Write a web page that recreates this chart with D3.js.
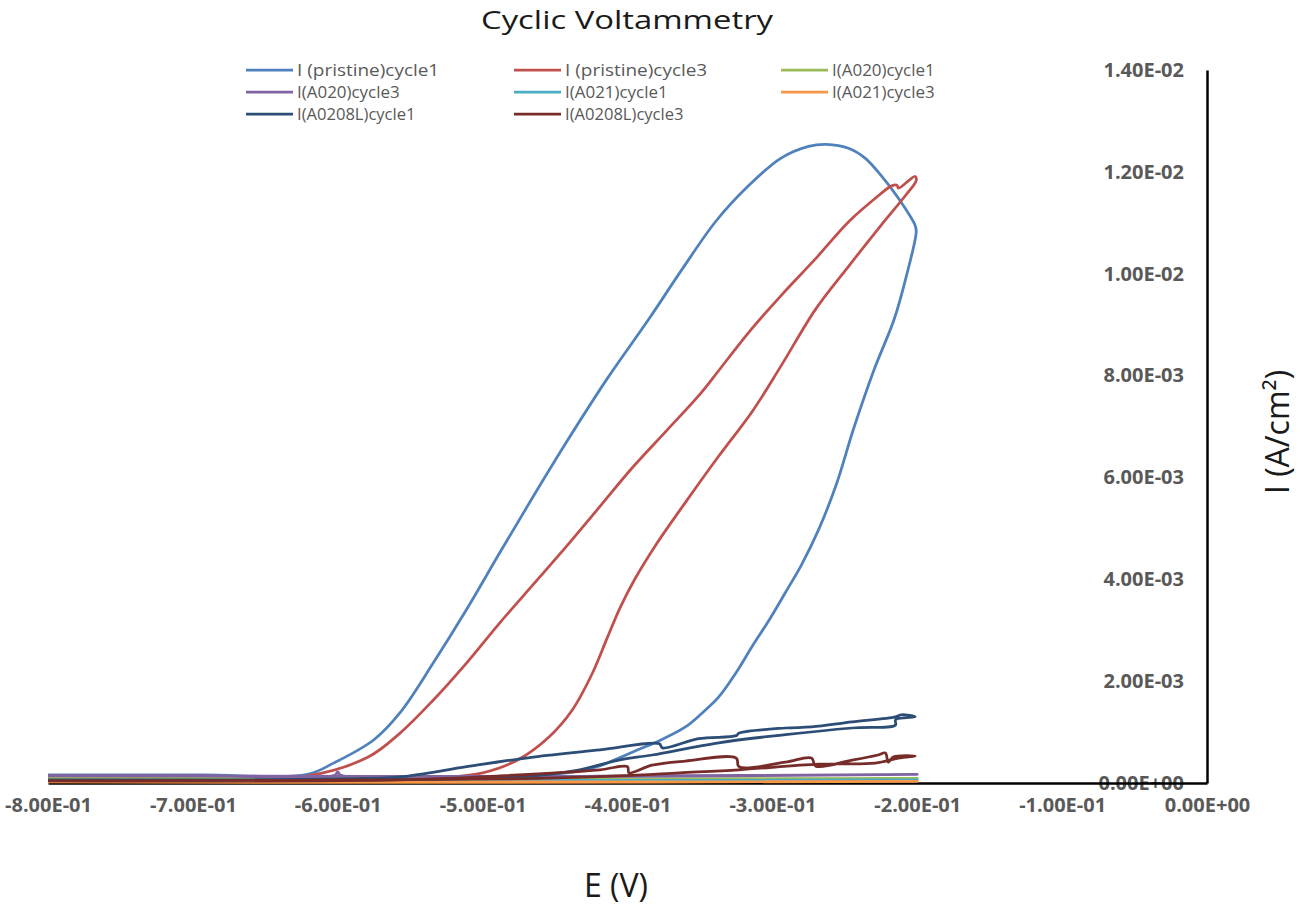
<!DOCTYPE html>
<html>
<head>
<meta charset="utf-8">
<script src="https://cdn.jsdelivr.net/npm/d3@7"></script>
<style>
  body { margin: 0; background: #fff; }
  text { font-family: "Open Sans", "Liberation Sans", sans-serif; }
</style>
</head>
<body>
<script>
// series values, [E (V), I (A/cm2)]
var pristineCycle1 = [
  [-0.800, 1.6e-4], [-0.694, 1.6e-4], [-0.621, 1.7e-4], [-0.603, 3.9e-4], [-0.575, 8.5e-4],
  [-0.557, 1.38e-3], [-0.534, 2.36e-3], [-0.511, 3.41e-3], [-0.488, 4.53e-3], [-0.465, 5.63e-3],
  [-0.442, 6.70e-3], [-0.414, 7.94e-3], [-0.385, 9.12e-3], [-0.362, 1.01e-2], [-0.339, 1.103e-2],
  [-0.316, 1.174e-2], [-0.294, 1.227e-2], [-0.275, 1.250e-2], [-0.263, 1.254e-2], [-0.247, 1.246e-2],
  [-0.236, 1.227e-2], [-0.225, 1.193e-2], [-0.213, 1.148e-2], [-0.2015, 1.095e-2], [-0.2007, 1.083e-2],
  [-0.208, 9.90e-3], [-0.216, 9.10e-3], [-0.230, 8.10e-3], [-0.244, 6.95e-3],
  [-0.256, 5.85e-3], [-0.268, 4.98e-3], [-0.280, 4.28e-3], [-0.291, 3.74e-3], [-0.302, 3.21e-3],
  [-0.314, 2.68e-3], [-0.325, 2.17e-3], [-0.337, 1.69e-3], [-0.349, 1.36e-3], [-0.360, 1.10e-3],
  [-0.378, 8.3e-4], [-0.394, 6.4e-4], [-0.406, 4.9e-4], [-0.421, 3.2e-4], [-0.442, 2.0e-4],
  [-0.488, 1.2e-4], [-0.800, 1.0e-4]
];
var pristineCycle3 = [
  [-0.800, 1.0e-4], [-0.621, 1.4e-4], [-0.579, 5.1e-4], [-0.557, 9.8e-4], [-0.534, 1.63e-3],
  [-0.511, 2.36e-3], [-0.488, 3.15e-3], [-0.465, 3.90e-3], [-0.442, 4.65e-3], [-0.419, 5.43e-3],
  [-0.397, 6.18e-3], [-0.373, 6.92e-3], [-0.351, 7.60e-3], [-0.337, 8.10e-3], [-0.316, 8.86e-3],
  [-0.294, 9.57e-3], [-0.270, 1.030e-2], [-0.247, 1.103e-2], [-0.229, 1.148e-2], [-0.218, 1.172e-2],
  [-0.214, 1.174e-2], [-0.213, 1.168e-2], [-0.2015, 1.191e-2], [-0.2007, 1.183e-2],
  [-0.208, 1.154e-2], [-0.225, 1.095e-2], [-0.247, 1.016e-2], [-0.270, 9.31e-3], [-0.294, 8.19e-3],
  [-0.314, 7.29e-3], [-0.337, 6.42e-3], [-0.360, 5.51e-3], [-0.381, 4.65e-3], [-0.395, 4.00e-3],
  [-0.405, 3.45e-3], [-0.414, 2.85e-3], [-0.424, 2.17e-3], [-0.438, 1.44e-3], [-0.454, 9.1e-4],
  [-0.476, 4.5e-4], [-0.500, 2.0e-4], [-0.522, 1.2e-4], [-0.800, 8.0e-5]
];
var a020Cycle1 = [
  [-0.800, 9.0e-5], [-0.700, 9.0e-5], [-0.600, 8.0e-5], [-0.400, 8.0e-5], [-0.200, 9.0e-5],
  [-0.400, 7.0e-5], [-0.800, 8.0e-5]
];
var a020Cycle3 = [
  [-0.800, 1.5e-4], [-0.700, 1.5e-4], [-0.602, 1.5e-4], [-0.600, 2.2e-4], [-0.598, 1.5e-4],
  [-0.400, 1.4e-4], [-0.200, 1.7e-4], [-0.400, 1.3e-4], [-0.800, 1.4e-4]
];
var a021Cycle1 = [
  [-0.800, 5.0e-5], [-0.500, 5.0e-5], [-0.200, 6.0e-5], [-0.500, 4.0e-5], [-0.800, 5.0e-5]
];
var a021Cycle3 = [
  [-0.800, 2.0e-5], [-0.500, 2.0e-5], [-0.200, 3.0e-5], [-0.500, 1.0e-5], [-0.800, 2.0e-5]
];
var a0208LCycle1 = [
  [-0.800, 6.0e-5], [-0.598, 8.0e-5], [-0.557, 1.2e-4], [-0.511, 3.2e-4], [-0.465, 5.1e-4],
  [-0.419, 6.5e-4], [-0.378, 7.7e-4], [-0.376, 6.9e-4], [-0.351, 8.7e-4], [-0.325, 9.3e-4],
  [-0.323, 9.8e-4], [-0.291, 1.08e-3], [-0.273, 1.10e-3], [-0.245, 1.20e-3], [-0.215, 1.30e-3],
  [-0.211, 1.34e-3], [-0.2014, 1.30e-3],
  [-0.215, 1.24e-3], [-0.215, 1.14e-3], [-0.245, 1.08e-3], [-0.291, 9.5e-4], [-0.337, 7.9e-4],
  [-0.383, 5.5e-4], [-0.406, 4.5e-4], [-0.433, 2.6e-4], [-0.474, 1.2e-4], [-0.800, 6.0e-5]
];
var a0208LCycle3 = [
  [-0.800, 4.0e-5], [-0.557, 6.0e-5], [-0.488, 1.4e-4], [-0.419, 2.6e-4], [-0.400, 3.2e-4],
  [-0.399, 2.0e-4], [-0.383, 3.5e-4], [-0.360, 4.3e-4], [-0.325, 4.9e-4], [-0.323, 3.2e-4],
  [-0.291, 4.1e-4], [-0.273, 4.9e-4], [-0.270, 3.3e-4], [-0.245, 4.5e-4], [-0.227, 5.5e-4],
  [-0.222, 5.9e-4], [-0.220, 4.1e-4], [-0.2165, 5.1e-4], [-0.2014, 5.3e-4],
  [-0.213, 4.9e-4], [-0.229, 3.9e-4], [-0.268, 3.7e-4], [-0.323, 2.6e-4], [-0.364, 2.0e-4],
  [-0.406, 1.4e-4], [-0.488, 8.0e-5], [-0.800, 4.0e-5]
];

var seriesNames = [
  "I (pristine)cycle1", "I (pristine)cycle3", "I(A020)cycle1", "I(A020)cycle3",
  "I(A021)cycle1", "I(A021)cycle3", "I(A0208L)cycle1", "I(A0208L)cycle3"
];
var seriesData = [pristineCycle1, pristineCycle3, a020Cycle1, a020Cycle3,
                  a021Cycle1, a021Cycle3, a0208LCycle1, a0208LCycle3];
var xTicks = [-0.8, -0.7, -0.6, -0.5, -0.4, -0.3, -0.2, -0.1, 0];
var yTicks = [0, 0.002, 0.004, 0.006, 0.008, 0.010, 0.012, 0.014];

var colors = ["#4F81BD", "#C0504D", "#9BBB59", "#8064A2",
              "#4BACC6", "#F79646", "#2C4D75", "#772C2A"];

var W = 1300, H = 907;

var svg = d3.select("body").append("svg")
    .attr("width", W)
    .attr("height", H);

var x = d3.scaleLinear().domain([-0.8, 0]).range([48, 1207]);
var y = d3.scaleLinear().domain([0, 0.014]).range([783, 70]);

// excel style 1.40E-02
function sci(v) {
  var s = v.toExponential(2).toUpperCase();
  var parts = s.split("E");
  var e = parseInt(parts[1], 10);
  var es = (e < 0 ? "-" : "+") + (Math.abs(e) < 10 ? "0" : "") + Math.abs(e);
  return parts[0] + "E" + es;
}

// y axis (sits on the right, at E = 0)
var yAxis = d3.axisLeft(y).tickValues(yTicks).tickSize(0).tickPadding(23).tickFormat(sci);
var gy = svg.append("g")
    .attr("transform", "translate(" + x(0) + ",0)")
    .call(yAxis);
gy.select(".domain").attr("stroke", "#000").attr("stroke-width", 2.5);
gy.selectAll("text")
    .attr("fill", "#595959")
    .style("font-size", "20px")
    .style("font-weight", "bold");

var xAxis = d3.axisBottom(x).tickValues(xTicks).tickSize(0).tickPadding(15).tickFormat(sci);
var gx = svg.append("g")
    .attr("transform", "translate(0," + y(0) + ")")
    .call(xAxis);
gx.select(".domain").attr("stroke", "#000").attr("stroke-width", 2.5);
gx.selectAll("text")
    .attr("fill", "#595959")
    .style("font-size", "20px")
    .style("font-weight", "bold");

var line = d3.line()
    .curve(d3.curveCatmullRom.alpha(0.5))
    .x(function (d) { return x(d[0]); })
    .y(function (d) { return y(d[1]); });

svg.append("g").selectAll("path")
    .data(seriesData)
    .enter().append("path")
    .attr("d", line)
    .attr("fill", "none")
    .attr("stroke", function (d, i) { return colors[i]; })
    .attr("stroke-width", 2.75)
    .attr("stroke-linejoin", "round");

// legend
var legCols = [246, 514, 781];
var legRows = [70, 92, 114];
var leg = svg.append("g").selectAll("g")
    .data(seriesNames)
    .enter().append("g")
    .attr("transform", function (d, i) {
      return "translate(" + legCols[i % 3] + "," + legRows[Math.floor(i / 3)] + ")";
    });
leg.append("line")
    .attr("x1", 0).attr("x2", 47)
    .attr("stroke", function (d, i) { return colors[i]; })
    .attr("stroke-width", 2.75);
leg.append("text")
    .attr("x", 51)
    .attr("dy", "0.35em")
    .attr("fill", "#595959")
    .attr("textLength", function (d) { return d.length * 7.9; })
    .attr("lengthAdjust", "spacingAndGlyphs")
    .style("font-size", "16px")
    .text(function (d) { return d; });

// titles
svg.append("text")
    .attr("x", 627).attr("y", 29)
    .attr("text-anchor", "middle")
    .attr("fill", "#1a1a1a")
    .attr("textLength", 292)
    .attr("lengthAdjust", "spacingAndGlyphs")
    .style("font-size", "26px")
    .text("Cyclic Voltammetry");

svg.append("text")
    .attr("x", 616).attr("y", 897)
    .attr("text-anchor", "middle")
    .attr("fill", "#1a1a1a")
    .style("font-size", "32px")
    .text("E (V)");

svg.append("text")
    .attr("transform", "translate(1289,432) rotate(-90)")
    .attr("text-anchor", "middle")
    .attr("fill", "#1a1a1a")
    .style("font-size", "32px")
    .text("I (A/cm²)");
</script>
</body>
</html>
